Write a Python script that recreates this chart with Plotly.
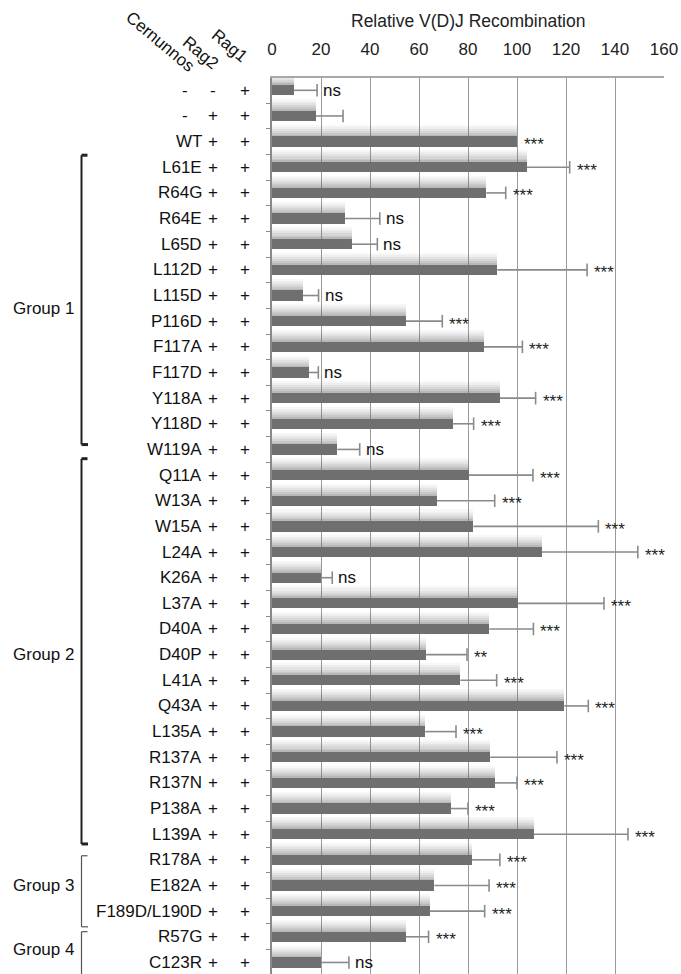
import plotly.graph_objects as go

# ---------------- data ----------------
cernunnos = ["-", "-", "WT", "L61E", "R64G", "R64E", "L65D", "L112D", "L115D", "P116D",
             "F117A", "F117D", "Y118A", "Y118D", "W119A", "Q11A", "W13A", "W15A", "L24A",
             "K26A", "L37A", "D40A", "D40P", "L41A", "Q43A", "L135A", "R137A", "R137N",
             "P138A", "L139A", "R178A", "E182A", "F189D/L190D", "R57G", "C123R"]
rag2 = ["-"] + ["+"] * 34
rag1 = ["+"] * 35
recomb = [9.0, 18.0, 100, 104, 87.5, 29.7, 32.5, 92, 12.5, 54.7,
          86.5, 15.1, 92.9, 73.7, 26.7, 80.3, 67.3, 82.2, 110.2,
          19.9, 100.3, 88.7, 62.9, 76.9, 119.3, 62.6, 89.1, 90.9,
          72.9, 106.9, 81.5, 66.3, 64.4, 54.7, 20.1]
err_plus = [9.4, 11.0, 0, 17.5, 7.9, 14.3, 10.5, 36.6, 6.5, 14.8,
            15.7, 3.8, 14.7, 8.6, 9.1, 26.2, 23.6, 51.0, 39.1,
            4.7, 35.2, 18.0, 16.7, 14.8, 9.8, 12.5, 27.2, 9.1,
            7.1, 38.4, 11.5, 22.3, 22.4, 9.2, 11.3]
signif = ["ns", "", "***", "***", "***", "ns", "ns", "***", "ns", "***",
          "***", "ns", "***", "***", "ns", "***", "***", "***", "***",
          "ns", "***", "***", "**", "***", "***", "***", "***", "***",
          "***", "***", "***", "***", "***", "***", "ns"]
groups = ["Group 1", "Group 2", "Group 3", "Group 4"]
group_rows = [(3, 14), (15, 29), (30, 32), (33, 34)]
x_ticks = [0, 20, 40, 60, 80, 100, 120, 140, 160]
headers = ["Cernunnos", "Rag2", "Rag1"]

# ---------------- layout geometry ----------------
W, H = 681, 974
L, R, T, B = 272, 17, 78, 0
PW, PH = W - L - R, H - T - B


def px(p):
    return (p - L) / PW


def py(p):
    return (H - B - p) / PH


FONT = "Liberation Sans, Arial, Helvetica, sans-serif"

rows = list(range(len(cernunnos)))
fig = go.Figure()

# soft glow above each bar (layered translucent bars)
glow = [(-0.66, 0.47, 0.05), (-0.58, 0.39, 0.06), (-0.50, 0.31, 0.08),
        (-0.42, 0.23, 0.10), (-0.34, 0.15, 0.13), (-0.27, 0.08, 0.16)]
for off, wd, a in glow:
    fig.add_trace(go.Bar(x=recomb, y=rows, orientation="h", offset=off, width=wd,
                         marker=dict(color=f"rgba(105,105,105,{a})", line=dict(width=0)),
                         hoverinfo="skip", showlegend=False))

fig.add_trace(go.Bar(x=recomb, y=rows, orientation="h", width=0.40,
                     marker=dict(color="#6f6f6f", line=dict(width=0)),
                     showlegend=False))

# error bars (one-sided)
ex, ey, cx, cy = [], [], [], []
for i, (v, e) in enumerate(zip(recomb, err_plus)):
    if e > 0:
        ex += [v, v + e, None]
        ey += [i, i, None]
        cx.append(v + e)
        cy.append(i)
fig.add_trace(go.Scatter(x=ex, y=ey, mode="lines", line=dict(color="#8a8a8a", width=1.6),
                         hoverinfo="skip", showlegend=False))
fig.add_trace(go.Scatter(x=cx, y=cy, mode="markers",
                         marker=dict(symbol="line-ns", size=9, line=dict(color="#8a8a8a", width=1.6)),
                         hoverinfo="skip", showlegend=False))

ann = []
# significance labels
for i, (v, e, s) in enumerate(zip(recomb, err_plus, signif)):
    if not s:
        continue
    if s == "ns":
        ann.append(dict(x=v + e, y=i, xref="x", yref="y", text=s, showarrow=False,
                        xanchor="left", xshift=4, font=dict(family=FONT, size=17, color="#111")))
    else:
        ann.append(dict(x=v + e, y=i, xref="x", yref="y", text=s, showarrow=False,
                        xanchor="left", xshift=5, yshift=-3,
                        font=dict(family=FONT, size=17, color="#222")))

# row labels
for i in rows:
    c = cernunnos[i]
    if c == "-":
        ann.append(dict(x=px(185), y=i, xref="paper", yref="y", text=c, showarrow=False,
                        xanchor="center", font=dict(family=FONT, size=17, color="#111")))
    else:
        ann.append(dict(x=px(204), y=i, xref="paper", yref="y", text=c, showarrow=False,
                        xanchor="right", font=dict(family=FONT, size=17, color="#111")))
    ann.append(dict(x=px(213), y=i, xref="paper", yref="y", text=rag2[i], showarrow=False,
                    xanchor="center", font=dict(family=FONT, size=17, color="#111")))
    ann.append(dict(x=px(245), y=i, xref="paper", yref="y", text=rag1[i], showarrow=False,
                    xanchor="center", font=dict(family=FONT, size=17, color="#111")))

# column headers (rotated)
for h, (hx, hy) in zip(headers, [(160, 41), (200, 53), (229, 46)]):
    ann.append(dict(x=px(hx), y=py(hy), xref="paper", yref="paper", text=h, showarrow=False,
                    textangle=40, xanchor="center", yanchor="middle",
                    font=dict(family=FONT, size=17, color="#111")))

# axis title
ann.append(dict(x=0.5, y=py(21), xref="paper", yref="paper", text="Relative V(D)J Recombination",
                showarrow=False, xanchor="center", yanchor="middle",
                font=dict(family=FONT, size=17.5, color="#222")))

# group brackets
shapes = []
bracket_spans = [(2.53, 13.81), (14.36, 29.38), (29.84, 32.61), (32.8, 34.6)]
for gi, (g, (r0, r1), (y0, y1)) in enumerate(zip(groups, group_rows, bracket_spans)):
    heavy = gi < 2
    col = "#222" if heavy else "#555"
    lw = 2 if heavy else 1.2
    shapes.append(dict(type="line", xref="paper", yref="y", x0=px(81.5), x1=px(81.5), y0=y0, y1=y1,
                       line=dict(color=col, width=lw)))
    shapes.append(dict(type="line", xref="paper", yref="y", x0=px(81.5), x1=px(87.5), y0=y0, y1=y0,
                       line=dict(color=col, width=3 if heavy else 1.2)))
    if gi < 3:
        shapes.append(dict(type="line", xref="paper", yref="y", x0=px(81.5), x1=px(88), y0=y1, y1=y1,
                           line=dict(color=col, width=3 if heavy else 1.2)))
    ann.append(dict(x=px(76), y=(r0 + r1) / 2, xref="paper", yref="y", text=g, showarrow=False,
                    xanchor="right", font=dict(family=FONT, size=17, color="#111")))

fig.update_layout(
    width=W, height=H,
    margin=dict(l=L, r=R, t=T, b=B, pad=0),
    paper_bgcolor="white", plot_bgcolor="white",
    barmode="overlay", bargap=0,
    annotations=ann, shapes=shapes,
    xaxis=dict(side="top", range=[0, 160], tickvals=x_ticks, ticktext=[str(t) for t in x_ticks],
               showgrid=True, gridcolor="#9a9a9a", gridwidth=1, zeroline=False,
               showline=True, linecolor="#a8a8a8", linewidth=2, ticks="",
               ticklabelstandoff=14, tickfont=dict(family=FONT, size=17, color="#222"),
               fixedrange=True),
    yaxis=dict(range=[34.45, -0.48], showgrid=False, zeroline=False, showline=True,
               linecolor="#8a8a8a", linewidth=1.5, ticks="outside", ticklen=4, tickcolor="#8a8a8a",
               tickvals=[i + 0.5 for i in range(-1, 35)], showticklabels=False, fixedrange=True),
)

fig.write_html("out.html")
